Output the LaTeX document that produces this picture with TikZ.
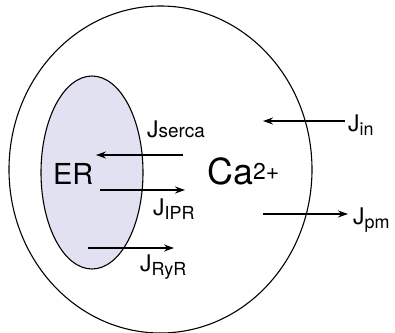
\documentclass[tikz,border=0pt]{standalone}
\usepackage{fontspec}
\setmainfont{TeX Gyre Heros}
\usetikzlibrary{arrows.meta,shapes.geometric}
\definecolor{erfill}{RGB}{225,225,242}
\newcommand{\Jsub}[1]{J\raisebox{-5pt}{\fontsize{18}{18}\selectfont #1}}
\tikzset{
  flux/.style={-{Stealth[length=10pt,width=7pt]}, line width=1.2pt},
  lbl/.style={anchor=base west, inner sep=0pt, font=\fontsize{23}{23}\selectfont},
  membrane/.style={draw, line width=1.1pt, ellipse, inner sep=0pt},
}
\begin{document}
\begin{tikzpicture}[x=1bp,y=-1bp]
\useasboundingbox (0,0) rectangle (395,333);
\node[membrane, minimum width=303bp, minimum height=327bp] (cell) at (160.5,169.5) {};
\node[membrane, fill=erfill, minimum width=102bp, minimum height=193bp] (er) at (92,172.5) {};
\node[lbl, font=\fontsize{29}{29}\selectfont] (ertext) at (53,184) {ER};
\node[lbl, font=\fontsize{36}{36}\selectfont] (ca) at (207,184) {Ca\raisebox{5pt}{\fontsize{23}{23}\selectfont 2+}};
\coordinate (s1) at (183,155); \coordinate (s2) at (96,155);
\draw[flux] (s1) -- (s2);
\node[lbl] (jserca) at (147,137) {J{\fontsize{19}{19}\selectfont serca}};
\coordinate (i1) at (100,190); \coordinate (i2) at (185,190);
\draw[flux] (i1) -- (i2);
\node[lbl] (jipr) at (153,215) {\Jsub{IPR}};
\coordinate (r1) at (88,248); \coordinate (r2) at (174,248);
\draw[flux] (r1) -- (r2);
\node[lbl] (jryr) at (140,271) {\Jsub{RyR}};
\coordinate (n1) at (345,121); \coordinate (n2) at (263,121);
\draw[flux] (n1) -- (n2);
\node[lbl] (jin) at (348,131) {\Jsub{in}};
\coordinate (p1) at (263,214); \coordinate (p2) at (348,214);
\draw[flux] (p1) -- (p2);
\node[lbl] (jpm) at (353,224) {\Jsub{pm}};
\end{tikzpicture}
\end{document}
